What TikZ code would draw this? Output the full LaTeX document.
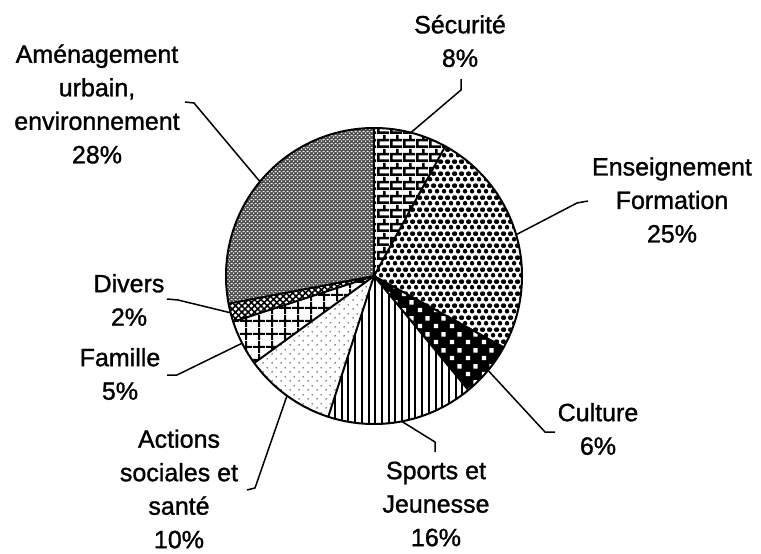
\documentclass[tikz,border=0pt]{standalone}
\usepackage{fontspec}
\setmainfont{Liberation Sans}[FakeBold=1.2]
\usetikzlibrary{patterns,patterns.meta,calc}

\pgfdeclarepatternformonly{secbricks}{\pgfpointorigin}{\pgfpoint{13pt}{14pt}}{\pgfpoint{13pt}{14pt}}{%
  \pgfpathrectangle{\pgfpoint{0pt}{0pt}}{\pgfpoint{13pt}{2.8pt}}%
  \pgfpathrectangle{\pgfpoint{0pt}{7pt}}{\pgfpoint{13pt}{2.8pt}}%
  \pgfpathrectangle{\pgfpoint{0pt}{0pt}}{\pgfpoint{2.8pt}{7pt}}%
  \pgfpathrectangle{\pgfpoint{6.5pt}{7pt}}{\pgfpoint{2.8pt}{7pt}}%
  \pgfusepath{fill}}
\pgfdeclarepatternformonly{ensblobs}{\pgfpointorigin}{\pgfpoint{7pt}{12pt}}{\pgfpoint{7pt}{12pt}}{%
  \pgfpathcircle{\pgfpoint{3.5pt}{3pt}}{2.5pt}%
  \pgfpathcircle{\pgfpoint{0pt}{9pt}}{2.5pt}%
  \pgfpathcircle{\pgfpoint{7pt}{9pt}}{2.5pt}%
  \pgfusepath{fill}}
\pgfdeclarepatternformonly{culdots}{\pgfpointorigin}{\pgfpoint{16pt}{16pt}}{\pgfpoint{16pt}{16pt}}{%
  \pgfpathrectangle{\pgfpoint{2pt}{2pt}}{\pgfpoint{4.5pt}{4.5pt}}%
  \pgfpathrectangle{\pgfpoint{10pt}{10pt}}{\pgfpoint{4.5pt}{4.5pt}}%
  \pgfusepath{fill}}
\pgfdeclarepatternformonly{actdots}{\pgfpointorigin}{\pgfpoint{9pt}{9pt}}{\pgfpoint{9pt}{9pt}}{%
  \pgfpathcircle{\pgfpoint{2.25pt}{2.25pt}}{0.8pt}%
  \pgfpathcircle{\pgfpoint{6.75pt}{6.75pt}}{0.8pt}%
  \pgfusepath{fill}}
\pgfdeclarepatternformonly{amedots}{\pgfpointorigin}{\pgfpoint{4pt}{3.6pt}}{\pgfpoint{4pt}{3.6pt}}{%
  \pgfpathcircle{\pgfpoint{2pt}{0.9pt}}{0.9pt}%
  \pgfpathcircle{\pgfpoint{0pt}{2.7pt}}{0.9pt}%
  \pgfpathcircle{\pgfpoint{4pt}{2.7pt}}{0.9pt}%
  \pgfusepath{fill}}

\begin{document}
\begin{tikzpicture}[x=1pt,y=-1pt,
  lbl/.style={font=\fontsize{25}{33.5}\selectfont, align=center, inner sep=0pt},
  leader/.style={line width=1.5pt, line join=round},
  edge/.style={line width=2pt}]
\useasboundingbox (0,0) rectangle (761,554);
\fill[white] (0,0) rectangle (761,554);
\def\R{148}
\coordinate (C) at (374,276);

% slices
\path[preaction={fill=white}, pattern=secbricks]
  (C) -- ++(-61.2:\R) arc[start angle=-61.2, end angle=-90, radius=\R] -- cycle;
\path[preaction={fill=white}, pattern=ensblobs]
  (C) -- ++(28.8:\R) arc[start angle=28.8, end angle=-61.2, radius=\R] -- cycle;
\path[preaction={fill=black}, pattern=culdots, pattern color=white]
  (C) -- ++(50.4:\R) arc[start angle=50.4, end angle=28.8, radius=\R] -- cycle;
\path[preaction={fill=white}, pattern={Lines[angle=90, distance=6.7pt, line width=2pt]}]
  (C) -- ++(108:\R) arc[start angle=108, end angle=50.4, radius=\R] -- cycle;
\path[preaction={fill=white}, pattern=actdots]
  (C) -- ++(144:\R) arc[start angle=144, end angle=108, radius=\R] -- cycle;
\path[preaction={fill=white}, pattern={Hatch[angle=0, distance=13pt, line width=2pt]}]
  (C) -- ++(162:\R) arc[start angle=162, end angle=144, radius=\R] -- cycle;
\path[preaction={fill=white}, pattern={Hatch[angle=45, distance=4.5pt, line width=1.6pt]}]
  (C) -- ++(169.2:\R) arc[start angle=169.2, end angle=162, radius=\R] -- cycle;
\path[preaction={fill=black!70}, pattern=amedots, pattern color=white]
  (C) -- ++(-90:\R) arc[start angle=-90, end angle=-190.8, radius=\R] -- cycle;

% outlines
\foreach \a in {-90,-61.2,28.8,50.4,108,144,162,169.2}
  \draw[edge] (C) -- ++(\a:\R);
\draw[edge] (C) circle[radius=\R];

% labels
\node[lbl] (lS)  at (460,41)  {Sécurité\\8\%};
\node[lbl] (lE)  at (672,200) {Enseignement\\Formation\\25\%};
\node[lbl] (lC)  at (598,429) {Culture\\6\%};
\node[lbl] (lSp) at (436,504) {Sports et\\Jeunesse\\16\%};
\node[lbl] (lA)  at (179,489) {Actions\\sociales et\\santé\\10\%};
\node[lbl] (lF)  at (120,374) {Famille\\5\%};
\node[lbl] (lD)  at (129,300) {Divers\\2\%};
\node[lbl] (lAm) at (97,104)  {Aménagement\\urbain,\\environnement\\28\%};

% leader coordinates
\coordinate (eS)  at ($(C)+(-75.6:\R)$);
\coordinate (bS)  at (461,90);
\coordinate (tS)  at (461,79);
\coordinate (eE)  at ($(C)+(-16.2:\R)$);
\coordinate (bE)  at (577,203);
\coordinate (tE)  at (588,201);
\coordinate (eC)  at ($(C)+(39.6:\R)$);
\coordinate (bC)  at (545,432);
\coordinate (tC)  at (555,432);
\coordinate (eSp) at ($(C)+(79.2:\R)$);
\coordinate (bSp) at (435,442);
\coordinate (tSp) at (435,452);
\coordinate (eA)  at ($(C)+(126:\R)$);
\coordinate (bA)  at (255,488);
\coordinate (tA)  at (247,490);
\coordinate (eF)  at ($(C)+(153:\R)$);
\coordinate (bF)  at (177,375);
\coordinate (tF)  at (167,375);
\coordinate (eD)  at ($(C)+(165.6:\R)$);
\coordinate (bD)  at (178,300);
\coordinate (tD)  at (167,299);
\coordinate (eAm) at ($(C)+(-140.4:\R)$);
\coordinate (bAm) at (194,103);
\coordinate (tAm) at (185,102);

% leaders
\draw[leader] (eS) -- (bS) -- (tS);
\draw[leader] (eE) -- (bE) -- (tE);
\draw[leader] (eC) -- (bC) -- (tC);
\draw[leader] (eSp) -- (bSp) -- (tSp);
\draw[leader] (eA) -- (bA) -- (tA);
\draw[leader] (eF) -- (bF) -- (tF);
\draw[leader] (eD) -- (bD) -- (tD);
\draw[leader] (eAm) -- (bAm) -- (tAm);
\end{tikzpicture}
\end{document}
